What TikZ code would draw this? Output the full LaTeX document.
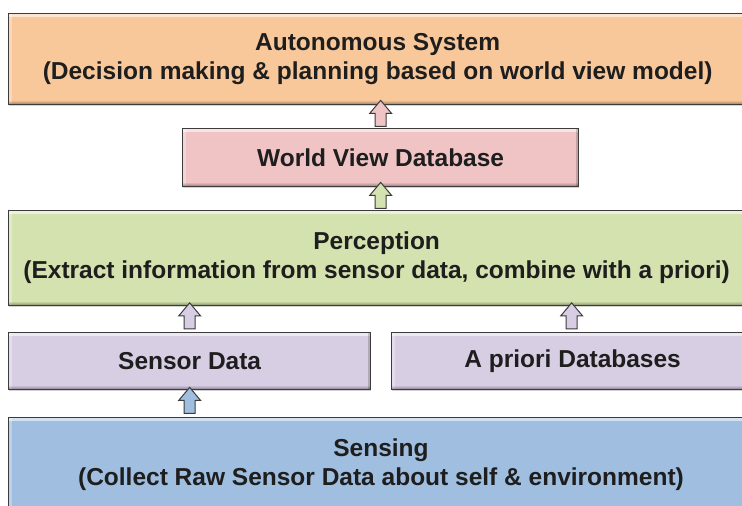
\documentclass[tikz,border=0pt]{standalone}
\usepackage{fontspec}
\setmainfont{Liberation Sans}
\usetikzlibrary{shapes.arrows,shadows,calc}

\definecolor{orangefill}{RGB}{249,200,154}
\definecolor{pinkfill}{RGB}{240,196,196}
\definecolor{greenfill}{RGB}{211,226,174}
\definecolor{lilacfill}{RGB}{216,206,228}
\definecolor{bluefill}{RGB}{160,190,224}
\definecolor{edge}{RGB}{60,60,60}
\definecolor{ink}{RGB}{30,30,30}

\tikzset{
  labelfont/.style={font=\bfseries\fontsize{24.5}{29}\selectfont, text=ink},
  bevelbox/.style={
    draw=edge, line width=1.3pt, rectangle, inner sep=0pt, anchor=north west,
    align=center, labelfont,
    drop shadow={shadow xshift=0.8pt, shadow yshift=-1.6pt, opacity=0.35},
    path picture={
      % light rim along the top and left edges
      \fill[white,opacity=0.55] (path picture bounding box.north west)
        rectangle ([yshift=-3pt]path picture bounding box.north east);
      \fill[white,opacity=0.3] (path picture bounding box.north west)
        rectangle ([xshift=3pt]path picture bounding box.south west);
      % darker rim along the bottom and right edges
      \foreach \k/\o in {1/0.08,2/0.16,3/0.26,4/0.38} {
        \fill[black,opacity=\o]
          ([yshift={(5-\k)*1pt}]path picture bounding box.south west)
          rectangle ([yshift={(4-\k)*1pt}]path picture bounding box.south east);
      }
      \fill[black,opacity=0.18] ([xshift=-3pt]path picture bounding box.north east)
        rectangle (path picture bounding box.south east);
    }
  },
  upshaft/.style={
    single arrow, draw=edge, line width=1pt, inner xsep=0pt, inner ysep=5pt,
    single arrow head extend=5.5pt, single arrow tip angle=80,
    minimum height=26pt, sloped
  }
}

\begin{document}
\begin{tikzpicture}[x=1pt,y=-1pt]
  \useasboundingbox (0,0) rectangle (742,506);
  \clip (0,0) rectangle (742,506);

  \node[bevelbox, fill=orangefill, minimum width=738pt, minimum height=91pt]
    (auto) at (8,13) {Autonomous System\\(Decision making \& planning based on world view model)};
  \node[bevelbox, fill=pinkfill, minimum width=396pt, minimum height=58pt]
    (world) at (182,128) {World View Database};
  \node[bevelbox, fill=greenfill, minimum width=736pt, minimum height=95pt]
    (perc) at (8,210) {Perception\\(Extract information from sensor data, combine with a priori)};
  \node[bevelbox, fill=lilacfill, minimum width=362pt, minimum height=57pt]
    (sensdata) at (8,332) {Sensor Data};
  \node[bevelbox, fill=lilacfill, minimum width=362pt, minimum height=57pt]
    (apriori) at (391,332) {A priori Databases};
  \node[bevelbox, fill=bluefill, minimum width=748pt, minimum height=110pt]
    (sensing) at (8,417) {};
  \node[labelfont, align=center]
    (sensingtext) at (381,465) {Sensing\\(Collect Raw Sensor Data about self \& environment)};

  % block arrows between the layers, each drawn from the lower box upwards
  \path (world.north) -- (world.north |- auto.south)
    node[midway, upshaft, fill=pinkfill] (a1) {};
  \path (world.south |- perc.north) -- (world.south)
    node[midway, upshaft, fill=greenfill] (a2) {};
  \path (sensdata.north) -- (sensdata.north |- perc.south)
    node[midway, upshaft, fill=lilacfill] (a3) {};
  \path ([xshift=-1pt]apriori.north) -- ([xshift=-1pt]apriori.north |- perc.south)
    node[midway, upshaft, fill=lilacfill] (a4) {};
  \path (sensdata.south |- sensing.north) -- (sensdata.south)
    node[midway, upshaft, fill=bluefill] (a5) {};
\end{tikzpicture}
\end{document}
